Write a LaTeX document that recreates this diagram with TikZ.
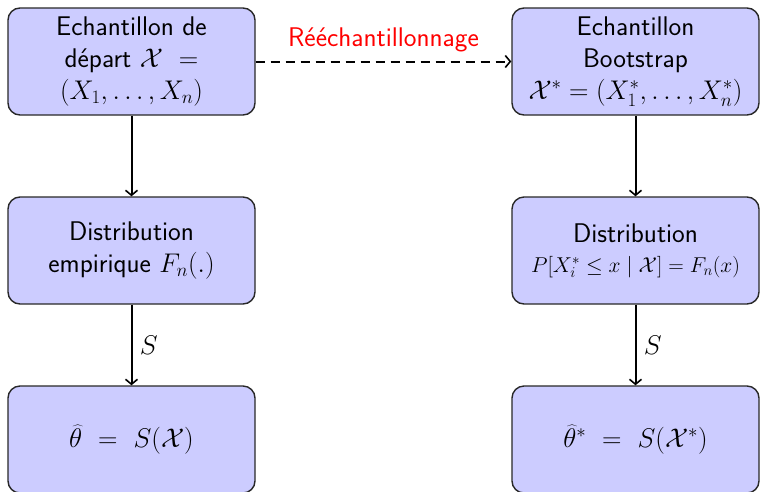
\RequirePackage{fix-cm}
\documentclass[tikz,border=0pt]{standalone}
\usetikzlibrary{arrows.meta}
\definecolor{boxfill}{RGB}{204,204,255}
\definecolor{boxline}{RGB}{40,40,40}
\begin{document}
\begin{tikzpicture}[x=1pt,y=-1pt,
  box/.style={draw=boxline,fill=boxfill,line width=1.4pt,rounded corners=12pt,
    minimum width=247pt,minimum height=107pt,inner sep=0pt,align=center,
    font=\sffamily\fontsize{27}{32}\selectfont},
  flow/.style={line width=2pt,-{Straight Barb[length=5pt,width=12pt,line width=1.6pt]}},
  lbl/.style={font=\fontsize{27}{30}\selectfont}]
\useasboundingbox (0,0) rectangle (760,491);
\clip (0,0) rectangle (760,491);
\node[box] (a1) at (131.5,61.5) {Echantillon de\\d\'epart $\mathcal{X}\ =$\\$(X_1,\ldots,X_n)$};
\node[box] (a2) at (131.5,250.5) {Distribution\\empirique $F_n(.)$};
\node[box] (a3) at (131.5,439.5) {$\widehat{\theta}\ =\ S(\mathcal{X})$};
\node[box] (b1) at (635.5,61.5) {Echantillon\\Bootstrap\\$\mathcal{X}^*=(X_1^*,\ldots,X_n^*)$};
\node[box] (b2) at (635.5,250.5) {Distribution\\[-2pt]{\fontsize{21.5}{24}\selectfont$P[X_i^*\leq x\mid\mathcal{X}]=F_n(x)$}};
\node[box] (b3) at (635.5,439.5) {$\widehat{\theta}^*\ =\ S(\mathcal{X}^*)$};
\draw[flow] (a1) -- (a2);
\draw[flow] (a2) -- node[right,lbl,xshift=4pt] (s1) {$S$} (a3);
\draw[flow] (b1) -- (b2);
\draw[flow] (b2) -- node[right,lbl,xshift=4pt] (s2) {$S$} (b3);
\draw[flow,dash pattern=on 9pt off 6pt] (a1) -- node[above=5pt,text=red,font=\sffamily\fontsize{27}{30}\selectfont] (r) {R\'e\'echantillonnage} (b1);
\end{tikzpicture}
\end{document}
